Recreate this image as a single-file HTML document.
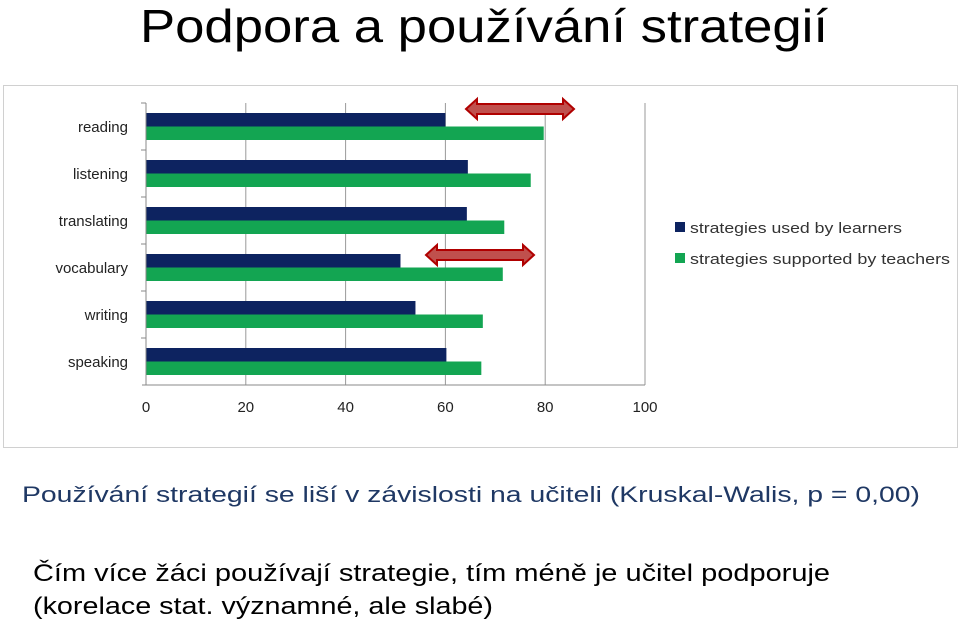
<!DOCTYPE html>
<html><head><meta charset="utf-8"><style>body{margin:0;background:#fff}svg{display:block}text{font-family:"Liberation Sans",sans-serif}</style></head>
<body>
<svg id="s" width="960" height="627" viewBox="0 0 960 627">
<text x="140" y="42" font-size="46" fill="#000" textLength="688" lengthAdjust="spacingAndGlyphs">Podpora a používání strategií</text>
<rect x="3.5" y="85.5" width="954" height="362" fill="#fff" stroke="#d0d0d0"/>
<g id="grid"></g><g id="bars"></g><g id="axes"></g>
<g>
<rect x="675" y="222" width="10" height="10" fill="#0d2360"/>
<text x="690" y="233" font-size="15" fill="#333" textLength="212" lengthAdjust="spacingAndGlyphs">strategies used by learners</text>
<rect x="675" y="253" width="10" height="10" fill="#13a552"/>
<text x="690" y="264" font-size="15" fill="#333" textLength="260" lengthAdjust="spacingAndGlyphs">strategies supported by teachers</text>
</g>
<polygon points="466,109 477,99 477,104 563,104 563,99 574,109 563,119 563,114 477,114 477,119" fill="#c0504d" stroke="#b00000" stroke-width="2"/>
<polygon points="426,255 437,245 437,250 523,250 523,245 534,255 523,265 523,260 437,260 437,265" fill="#c0504d" stroke="#b00000" stroke-width="2"/>
<text x="22" y="502" font-size="22" fill="#1f3864" textLength="898" lengthAdjust="spacingAndGlyphs">Používání strategií se liší v závislosti na učiteli (Kruskal-Walis, p = 0,00)</text>
<text x="33" y="581" font-size="24" fill="#000" textLength="797" lengthAdjust="spacingAndGlyphs">Čím více žáci používají strategie, tím méně je učitel podporuje</text>
<text x="33" y="614" font-size="24" fill="#000" textLength="460" lengthAdjust="spacingAndGlyphs">(korelace stat. významné, ale slabé)</text>
</svg>
<script>
const categories=["reading","listening","translating","vocabulary","writing","speaking"];
const learners=[60,64.5,64.3,51,54,60.2];
const teachers=[79.7,77.1,71.8,71.5,67.5,67.2];
const ticks=[0,20,40,60,80,100];
const NS="http://www.w3.org/2000/svg";
const x0=146,x1=645,yTop=103,yBot=385,band=(yBot-yTop)/categories.length;
const xs=v=>x0+(x1-x0)*v/100;
function mk(tag,attrs,parent,txt){const e=document.createElementNS(NS,tag);for(const k in attrs)e.setAttribute(k,attrs[k]);if(txt!==undefined)e.textContent=txt;document.getElementById(parent).appendChild(e);return e;}
ticks.forEach(t=>{
 if(t>0){const g=mk('line',{x1:xs(t),x2:xs(t),y1:yTop,y2:yBot,stroke:'#999','stroke-width':1},'grid');
 
 }
 const l=mk('text',{x:xs(t),y:yBot+27,'font-size':15,fill:'#222','text-anchor':'middle'},'axes',t);
 
 
});
const ax=mk('line',{x1:x0,x2:x0,y1:yTop,y2:yBot,stroke:'#888'},'axes');


const bx=mk('line',{x1:x0-4,x2:x1,y1:yBot,y2:yBot,stroke:'#888'},'axes');


categories.forEach((c,i)=>{
 const yb=yTop+i*band;
 const tk=mk('line',{x1:x0-5,x2:x0,y1:yb,y2:yb,stroke:'#888'},'axes');
 
 
 const b1=mk('rect',{x:x0,y:yb+10,width:xs(learners[i])-x0,height:13.5,fill:'#0d2360'},'bars');
 
 
 const b2=mk('rect',{x:x0,y:yb+23.5,width:xs(teachers[i])-x0,height:13.5,fill:'#13a552'},'bars');
 
 
 const lb=mk('text',{x:128,y:yb+29,'font-size':15,fill:'#222','text-anchor':'end'},'axes',c);
 
 
});
</script>
</body></html>
